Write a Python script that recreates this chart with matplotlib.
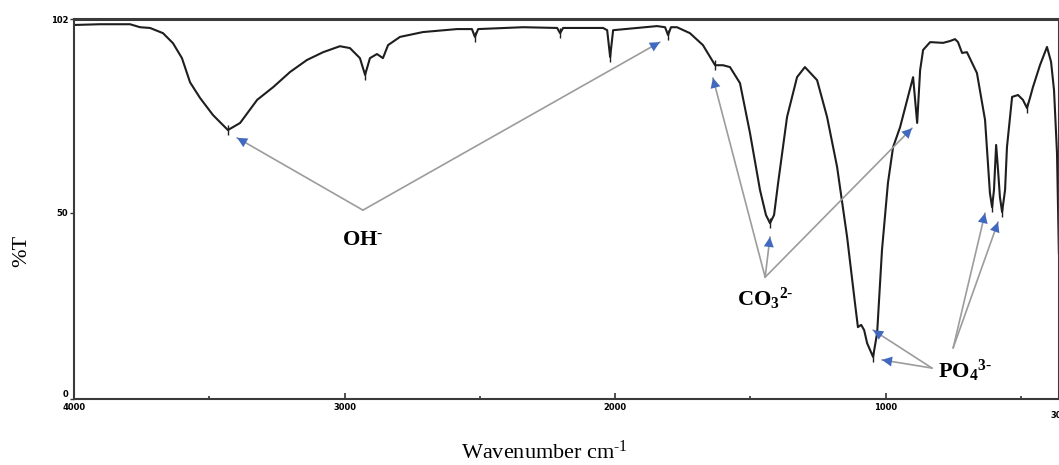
import matplotlib
matplotlib.use("Agg")
import matplotlib.pyplot as plt

plt.rcParams['font.family'] = ['Liberation Serif', 'DejaVu Serif']
plt.rcParams['mathtext.fontset'] = 'custom'
plt.rcParams['mathtext.rm'] = 'Liberation Serif'
plt.rcParams['mathtext.it'] = 'Liberation Serif:italic'
plt.rcParams['mathtext.bf'] = 'Liberation Serif:bold'

# FTIR spectrum (wavenumber in cm-1, %T)
wavenumber = [4000, 3904, 3793, 3756, 3719, 3671, 3634, 3601, 3571, 3534, 3486, 3431,
              3386, 3323, 3264, 3201, 3139, 3079, 3017, 2980, 2943, 2924, 2906, 2880,
              2858, 2839, 2795, 2710, 2584, 2529, 2518, 2506, 2340, 2214, 2203, 2192,
              2044, 2029, 2018, 2007, 1845, 1815, 1804, 1793, 1771, 1723, 1675, 1630,
              1601, 1575, 1538, 1501, 1464, 1442, 1427, 1412, 1397, 1364, 1327, 1298,
              1253, 1216, 1179, 1142, 1113, 1102, 1090, 1079, 1068, 1046, 1031, 1013,
              991, 972, 946, 917, 898, 883, 872, 861, 835, 787, 761, 743, 732, 717,
              699, 662, 632, 614, 606, 599, 591, 584, 577, 569, 558, 551, 532, 510,
              492, 477, 466, 455, 429, 403, 388, 377, 366, 359]
transmittance = [100.4, 100.6, 100.6, 99.8, 99.6, 98.2, 95.5, 91.5, 85.0, 80.8, 76.2, 72.2,
                 74.1, 80.3, 83.7, 87.8, 91.0, 93.1, 94.7, 94.2, 91.5, 87.0, 91.5, 92.6,
                 91.5, 95.0, 97.2, 98.5, 99.3, 99.3, 97.2, 99.3, 99.8, 99.6, 98.2, 99.6,
                 99.6, 99.0, 91.8, 99.0, 100.1, 99.8, 97.7, 99.8, 99.8, 98.2, 95.0, 89.6,
                 89.6, 89.1, 84.8, 71.4, 56.1, 49.4, 47.2, 49.4, 58.0, 75.7, 86.4, 89.1,
                 85.6, 75.7, 62.3, 43.5, 25.8, 19.3, 19.9, 18.5, 15.0, 11.3, 17.7, 40.0,
                 58.0, 67.6, 73.0, 81.1, 86.4, 74.1, 88.3, 93.7, 95.8, 95.6, 96.1, 96.6,
                 95.8, 92.9, 93.1, 87.5, 74.9, 55.3, 51.5, 56.1, 68.2, 61.5, 54.2, 50.2,
                 56.1, 67.6, 81.1, 81.6, 80.3, 78.1, 80.8, 83.7, 89.6, 94.5, 90.5, 82.9,
                 66.0, 39.2]

# small peak markers drawn by the instrument software
peak_wn = [3431, 2924, 2518, 2203, 2018, 1804, 1630, 1427, 1046, 606, 569, 477]
peak_t = [72.2, 87.0, 97.2, 98.2, 91.8, 97.7, 89.6, 47.2, 11.3, 51.5, 50.2, 78.1]

# band labels: (text, label position, vertex of the lines, arrow tips)
bands = [
    ('$\\mathbf{OH}^{\\mathbf{\u2010}}$', (2932, 42.5), (2932, 50.7), [(3397, 70.1), (1834, 95.8)]),
    ('$\\mathbf{CO}_{\\mathbf{3}}{}^{\\mathbf{2\u2010}}$', (1445, 27.0), (1445, 32.7),
     [(1638, 86.2), (1427, 43.5), (902, 72.7)]),
    ('$\\mathbf{PO}_{\\mathbf{4}}{}^{\\mathbf{3\u2010}}$', (705, 7.5), (828, 8.3),
     [(1046, 18.5), (1013, 10.5)]),
    (None, None, (750, 13.7), [(632, 49.9), (584, 47.5)]),
]

fig = plt.figure(figsize=(10.59, 4.65), dpi=100)
ax = fig.add_axes([0.0699, 0.1419, 0.930, 0.8172])

ax.plot(wavenumber, transmittance, color='#1e1e1e', lw=1.5)
ax.plot(peak_wn, peak_t, ls='none', marker='|', ms=7, mew=1.0, color='#1e1e1e')

line_col = '#9c9c9c'
head_col = '#4169c0'
for text, tpos, vertex, tips in bands:
    for tip in tips:
        ax.annotate('', xy=tip, xytext=vertex,
                    arrowprops=dict(arrowstyle='-', color=line_col, lw=1.2,
                                    shrinkA=0, shrinkB=0))
        ax.annotate('', xy=tip, xytext=vertex,
                    arrowprops=dict(arrowstyle='-|>', color=head_col, lw=0,
                                    mutation_scale=18, shrinkA=0, shrinkB=0))
    if text:
        ax.text(tpos[0], tpos[1], text, fontsize=16, ha='center', va='center')

ax.set_xlim(4000, 359)
ax.set_ylim(0, 102)

ax.set_xticks([4000, 3000, 2000, 1000])
ax.set_xticks([3500, 2500, 1500, 500], minor=True)
ax.set_xticklabels(['4000', '3000', '2000', '1000'], family='DejaVu Sans Condensed',
                   fontsize=6, fontweight='bold')
ax.tick_params(axis='x', which='major', direction='in', length=4, width=1.2, pad=3,
               color='#333333')
ax.tick_params(axis='x', which='minor', direction='in', length=2, width=1.2,
               color='#333333')
ax.text(359, -3.2, '300', fontsize=6, fontweight='bold', family='DejaVu Sans Condensed',
        ha='center', va='top', clip_on=False)

ax.set_yticks([0, 50, 102])
ax.set_yticklabels(['0', '50', '102'], family='DejaVu Sans Condensed', fontsize=6,
                   fontweight='bold')
ax.tick_params(axis='y', direction='out', length=3, width=1.0, pad=1, color='#333333')
ax.get_yticklabels()[0].set_va('bottom')

for side in ['left', 'bottom', 'top', 'right']:
    ax.spines[side].set_color('#3a3a3a')
    ax.spines[side].set_linewidth(1.5)
ax.spines['top'].set_linewidth(2.2)

fig.text(0.514, 0.027, 'Wavenumber cm$^{\u2010\\mathrm{1}}$', fontsize=16, ha='center', va='center')
fig.text(0.021, 0.46, '%T', fontsize=16, rotation=90, ha='center', va='center')

fig.savefig('out.png', dpi=100)
